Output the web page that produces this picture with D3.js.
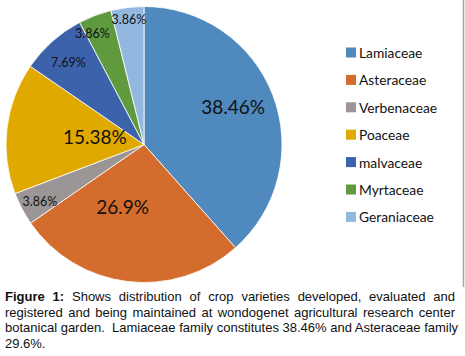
<!DOCTYPE html>
<html>
<head>
<meta charset="utf-8">
<script src="https://cdn.jsdelivr.net/npm/d3@7"></script>
<style>
  body { margin: 0; background: #fff; }
  #wrap { position: relative; width: 465px; height: 356px; overflow: hidden; }
  svg { position: absolute; left: 0; top: 0; }
  #caption {
    position: absolute; left: 5px; top: 289px; width: 450px;
    font-family: "Liberation Sans", Arial, sans-serif; font-size: 13px;
    line-height: 15.7px; color: #111;
  }
  #caption div { text-align: justify; text-align-last: justify; white-space: nowrap; }
  #caption div.last { text-align-last: left; }
</style>
</head>
<body>
<div id="wrap">
<svg></svg>
<div id="caption"></div>
</div>
<script>
const families = ["Lamiaceae", "Asteraceae", "Verbenaceae", "Poaceae", "malvaceae", "Myrtaceae", "Geraniaceae"];
const shares = [38.46, 26.9, 3.86, 15.38, 7.69, 3.86, 3.86];
const labels = ["38.46%", "26.9%", "3.86%", "15.38%", "7.69%", "3.86%", "3.86%"];
const colors = ["#4f89bd", "#d36c2c", "#9b9695", "#e0a900", "#3c62ab", "#5f9a3f", "#93b8e0"];
const captionLines = [
  ["Figure 1:", " Shows distribution of crop varieties developed, evaluated and"],
  ["", "registered and being maintained at wondogenet agricultural research center"],
  ["", "botanical garden.\u00a0 Lamiaceae family constitutes 38.46% and Asteraceae family"],
  ["", "29.6%."]
];

const width = 465, height = 356;
const cx = 144, cy = 144.5, r = 138;

const data = families.map((f, i) => ({ family: f, value: shares[i], label: labels[i], color: colors[i] }));

const svg = d3.select("svg")
    .attr("width", width)
    .attr("height", height)
    .attr("viewBox", [0, 0, width, height]);

// frame edge on the right
svg.append("line")
    .attr("x1", 463.5).attr("x2", 463.5)
    .attr("y1", 0).attr("y2", 287)
    .attr("stroke", "#a6a6a6")
    .attr("stroke-width", 1.5);

const pie = d3.pie().sort(null).value(d => d.value);
const arc = d3.arc().innerRadius(0).outerRadius(r);
const arcs = pie(data);

const g = svg.append("g").attr("transform", `translate(${cx},${cy})`);

g.selectAll("path")
  .data(arcs)
  .join("path")
    .attr("d", arc)
    .attr("fill", d => d.data.color)
    .attr("stroke", "#fff")
    .attr("stroke-width", 0.8);

// label placement: fraction of radius, angle nudge (deg), font size
const labelR = [0.70, 0.48, 0.86, 0.36, 0.81, 0.89, 0.91];
const labelShift = [-2, 12, -1, 2, -1, -4, 0];
const labelSize = [19, 19, 12.5, 19, 12.5, 12.5, 12.5];

g.selectAll("text")
  .data(arcs)
  .join("text")
    .attr("transform", (d, i) => {
      const a = (d.startAngle + d.endAngle) / 2 + labelShift[i] * Math.PI / 180;
      const rr = r * labelR[i];
      return `translate(${Math.sin(a) * rr},${-Math.cos(a) * rr})`;
    })
    .attr("text-anchor", "middle")
    .attr("dy", "0.36em")
    .attr("font-family", "Lato, 'Open Sans', sans-serif")
    .attr("font-size", (d, i) => labelSize[i])
    .attr("fill", "#111")
    .text(d => d.data.label);

// legend
const legend = svg.append("g").attr("transform", "translate(346,47.5)");
const row = legend.selectAll("g")
  .data(data)
  .join("g")
    .attr("transform", (d, i) => `translate(0,${i * 27.4})`);

row.append("rect")
    .attr("width", 10).attr("height", 10)
    .attr("fill", d => d.color);

row.append("text")
    .attr("x", 13)
    .attr("y", 5.5)
    .attr("dy", "0.36em")
    .attr("font-family", "Lato, 'Open Sans', sans-serif")
    .attr("font-size", 13.8)
    .attr("fill", "#111")
    .text(d => d.family);

// caption
const cap = d3.select("#caption");
captionLines.forEach((ln, i) => {
  const div = cap.append("div").classed("last", i === captionLines.length - 1);
  if (ln[0]) div.append("b").text(ln[0]);
  div.append("span").text(ln[1]);
});
</script>
</body>
</html>
